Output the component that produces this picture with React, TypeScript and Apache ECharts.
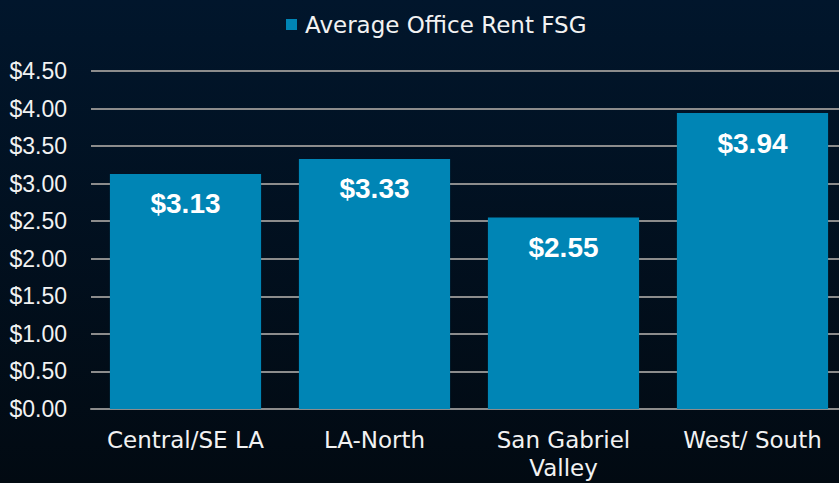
import React, { useEffect, useRef } from "react";
import * as echarts from "echarts";

const categories = ["Central/SE LA", "LA-North", "San Gabriel\nValley", "West/ South"];
const rentValues = [3.13, 3.33, 2.55, 3.94];
const seriesName = "Average Office Rent FSG";
const yMin = 0;
const yMax = 4.5;
const yInterval = 0.5;

export default function App() {
  const ref = useRef<HTMLDivElement>(null);
  useEffect(() => {
    document.body.style.margin = "0";
    const chart = echarts.init(ref.current!, null, { renderer: "svg" });
    const font = "'DejaVu Sans', sans-serif";
    const numFont = "'Liberation Sans', Arial, sans-serif";
    chart.setOption({
      animation: false,
      backgroundColor: {
        type: "linear", x: 0, y: 0, x2: 0, y2: 1,
        colorStops: [
          { offset: 0, color: "#01162c" },
          { offset: 1, color: "#020a12" },
        ],
      },
      legend: {
        top: 8,
        left: 281,
        itemWidth: 11,
        itemHeight: 11,
        itemGap: 4,
        icon: "rect",
        textStyle: { color: "#f2f2f2", fontSize: 23, fontFamily: font, padding: [0, 0, 0, 3] },
        data: [seriesName],
      },
      grid: {
        left: 91, width: 756, top: 71, bottom: 74,
        containLabel: false, outerBoundsMode: "none",
      },
      xAxis: {
        type: "category",
        data: categories,
        axisLine: { show: true, lineStyle: { color: "#8c8c8c", width: 2 } },
        axisTick: { show: false },
        axisLabel: {
          interval: 0, hideOverlap: false,
          color: "#f2f2f2", fontSize: 23, fontFamily: font, margin: 17, lineHeight: 28,
        },
      },
      yAxis: {
        type: "value",
        min: yMin,
        max: yMax,
        interval: yInterval,
        axisLine: { show: false },
        axisTick: { show: false },
        splitLine: { lineStyle: { color: "#8c8c8c", width: 2 } },
        axisLabel: {
          color: "#f2f2f2", fontSize: 23, fontFamily: numFont, margin: 24,
          formatter: (v: number) => "$" + v.toFixed(2),
        },
      },
      series: [
        {
          name: seriesName,
          type: "bar",
          data: rentValues,
          barCategoryGap: "20%",
          itemStyle: { color: "#0085b5" },
          label: {
            show: true,
            position: "insideTop",
            distance: 16,
            color: "#ffffff",
            fontSize: 28,
            fontWeight: "bold",
            fontFamily: numFont,
            formatter: (p: any) => "$" + Number(p.value).toFixed(2),
          },
        },
      ],
    });
    return () => chart.dispose();
  }, []);
  return <div ref={ref} style={{ width: 839, height: 483 }} />;
}
